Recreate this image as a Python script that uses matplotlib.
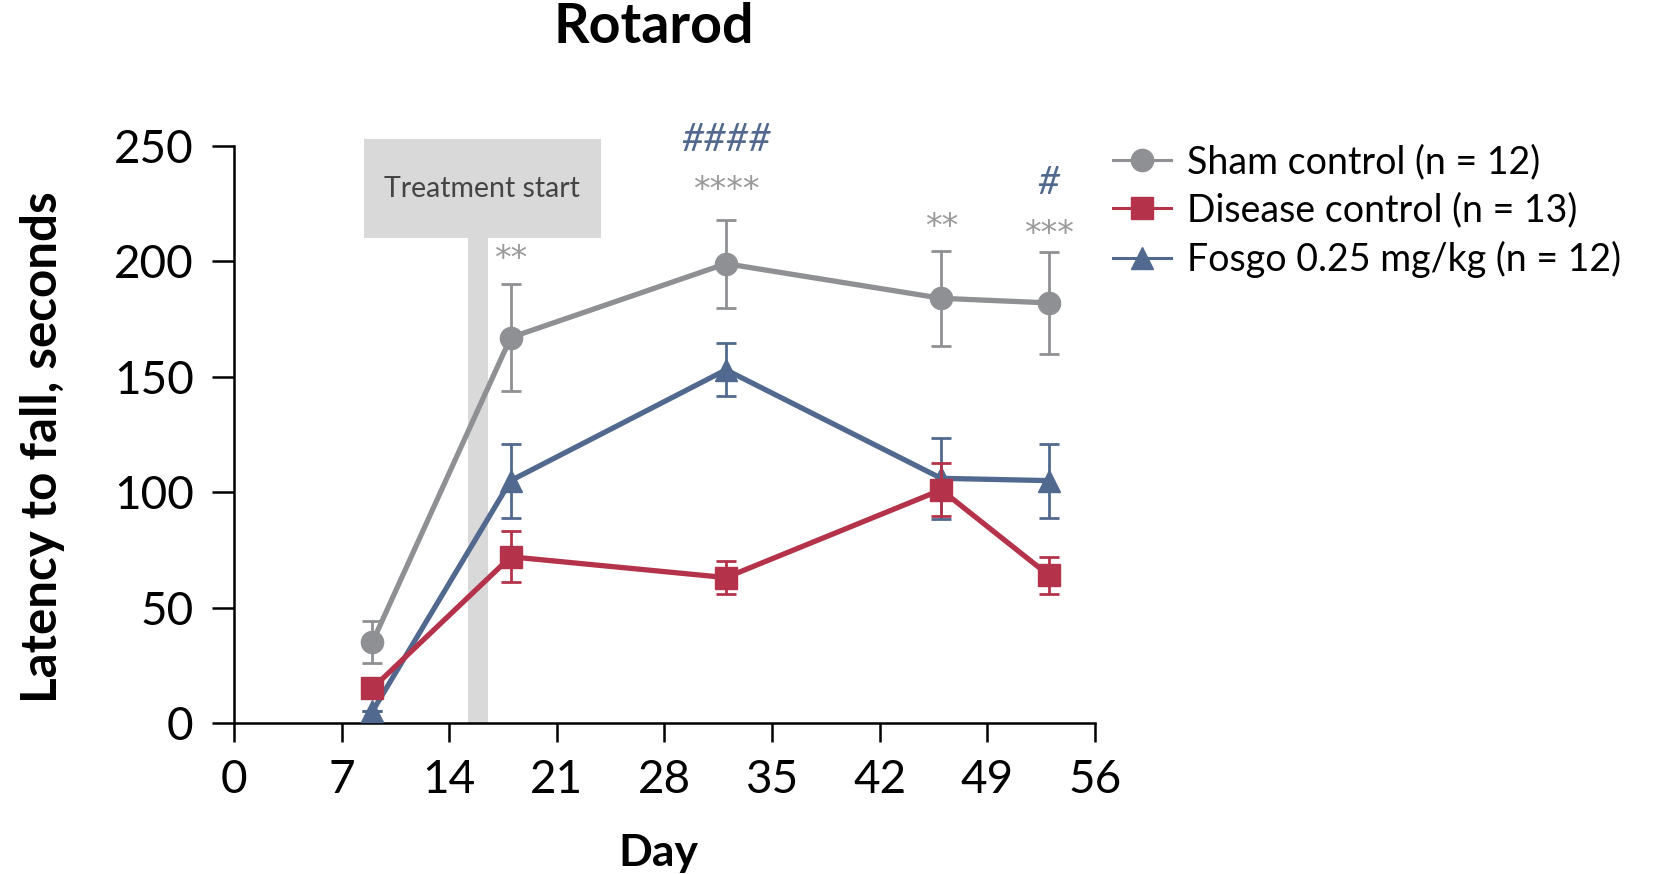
import matplotlib

matplotlib.use("Agg")
import matplotlib.pyplot as plt
from matplotlib.lines import Line2D
from matplotlib.patches import Rectangle

plt.rcParams["font.family"] = ["Lato", "DejaVu Sans"]

# data
days = [9, 18, 32, 46, 53]

sham_mean = [35, 167, 199, 184, 182]
sham_err = [9, 23, 19, 20.5, 22]

disease_mean = [15, 72, 63, 101, 64]
disease_err = [3, 11, 7, 11.5, 8]

fosgo_mean = [5, 105, 153, 106, 105]
fosgo_err = [0, 16, 11.5, 17.5, 16]

labels = [
    "Sham control (n = 12)",
    "Disease control (n = 13)",
    "Fosgo 0.25 mg/kg (n = 12)",
]

# significance marks: (day, y, text)
sham_marks = [(18, 205, "**"), (32, 235, "****"), (46, 219, "**"), (53, 216, "***")]
fosgo_marks = [(32, 254, "####"), (53, 235, "#")]

treatment_box = (8.45, 23.85, 210, 253)  # x0, x1, y0, y1
treatment_bar = (15.2, 16.55)

GRAY = "#8f9093"
RED = "#b5334a"
BLUE = "#52698f"
SHADE = "#d9d9d9"

fig = plt.figure(figsize=(16.55, 8.74), dpi=100)
ax = fig.add_axes([0.1414, 0.1728, 0.5202, 0.6602])

# treatment start shading
ax.add_patch(Rectangle((treatment_bar[0], 0), treatment_bar[1] - treatment_bar[0],
                       treatment_box[2], color=SHADE, lw=0, zorder=0))
ax.add_patch(Rectangle((treatment_box[0], treatment_box[2]),
                       treatment_box[1] - treatment_box[0],
                       treatment_box[3] - treatment_box[2],
                       color=SHADE, lw=0, zorder=0, clip_on=False))
ax.text((treatment_box[0] + treatment_box[1]) / 2, (treatment_box[2] + treatment_box[3]) / 2,
        "Treatment start", ha="center", va="center", fontsize=20.5, color="#444444")

series = [
    (sham_mean, sham_err, GRAY, "o", 2),
    (fosgo_mean, fosgo_err, BLUE, "^", 3),
    (disease_mean, disease_err, RED, "s", 4),
]
for mean, err, color, marker, z in series:
    ax.errorbar(days, mean, yerr=err, fmt="none", ecolor=color, elinewidth=2,
                capsize=7, capthick=2, zorder=z, clip_on=False)
    ax.plot(days, mean, color=color, lw=3.8, marker=marker, markersize=16,
            zorder=z, clip_on=False)

# asterisks sit high in the line box, so nudge them down a little
for day, y, txt in sham_marks:
    ax.annotate(txt, (day, y), xytext=(0, -7), textcoords="offset points",
                ha="center", va="center", fontsize=24, color="#9a9a9a",
                family="DejaVu Sans", annotation_clip=False)
for day, y, txt in fosgo_marks:
    ax.annotate(txt, (day, y), xytext=(0, -2), textcoords="offset points",
                ha="center", va="center", fontsize=28, color=BLUE,
                style="italic", annotation_clip=False)

ax.set_xlim(0, 56)
ax.set_ylim(0, 250)
ax.set_xticks(range(0, 57, 7))
ax.set_yticks(range(0, 251, 50))
ax.spines["top"].set_visible(False)
ax.spines["right"].set_visible(False)
for s in ("left", "bottom"):
    ax.spines[s].set_linewidth(1.8)
ax.tick_params(axis="both", direction="out", width=1.8, labelsize=33)
ax.tick_params(axis="y", length=16, pad=13)
ax.tick_params(axis="x", length=14, pad=12)

fig.text(0.0255, 0.488, "Latency to fall, seconds", rotation=90, ha="center",
         va="center", fontsize=35.5, fontweight="bold")
fig.text(0.3976, 0.024, "Day", ha="center", va="center", fontsize=32,
         fontweight="bold")
fig.text(0.395, 0.969, "Rotarod", ha="center", va="center", fontsize=40,
         fontweight="bold")

handles = [
    Line2D([], [], color=GRAY, lw=2.2, marker="o", markersize=16),
    Line2D([], [], color=RED, lw=2.2, marker="s", markersize=16),
    Line2D([], [], color=BLUE, lw=2.2, marker="^", markersize=16),
]
fig.legend(handles, labels, loc="upper left", bbox_to_anchor=(0.6725, 0.835),
           frameon=False, fontsize=27, handlelength=1.55, handletextpad=0.43,
           labelspacing=0.33, borderaxespad=0, borderpad=0)

fig.savefig("out.png", dpi=100)
